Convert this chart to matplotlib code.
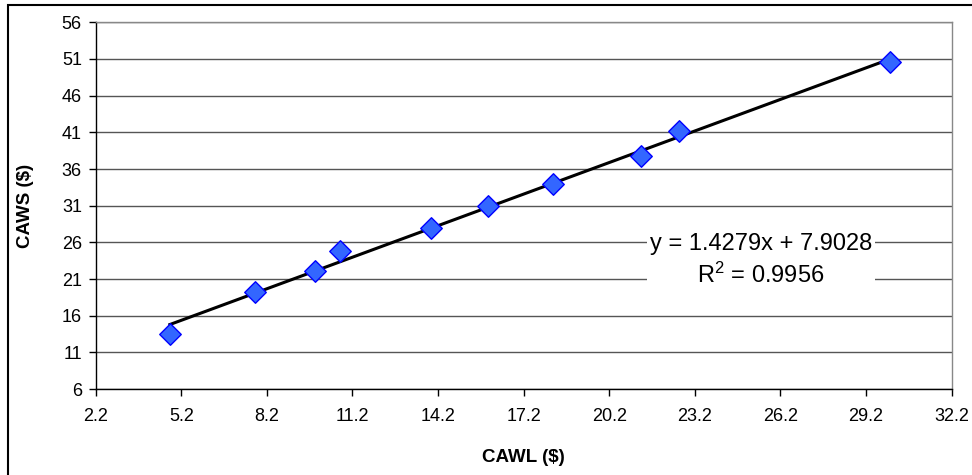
import numpy as np
import matplotlib
matplotlib.use('Agg')
import matplotlib.pyplot as plt
from matplotlib.patches import Rectangle

plt.rcParams['font.family'] = ['Liberation Sans', 'DejaVu Sans']
plt.rcParams['mathtext.fontset'] = 'custom'
plt.rcParams['mathtext.rm'] = 'Liberation Sans'
plt.rcParams['mathtext.default'] = 'regular'

# CAWL vs CAWS
cawl = [4.80, 7.78, 9.88, 10.77, 13.95, 15.95, 18.22, 21.33, 22.64, 30.05]
caws = [13.53, 19.22, 22.08, 24.77, 27.99, 30.91, 33.99, 37.77, 41.14, 50.55]
x_ticks = [2.2, 5.2, 8.2, 11.2, 14.2, 17.2, 20.2, 23.2, 26.2, 29.2, 32.2]
y_ticks = [6, 11, 16, 21, 26, 31, 36, 41, 46, 51, 56]
eq_text = 'y = 1.4279x + 7.9028\nR$^2$ = 0.9956'

fig = plt.figure(figsize=(9.72, 4.75), dpi=100)
ax = fig.add_axes([0.0985, 0.181, 0.8805, 0.772])

# outer chart border (runs off the right/bottom edge like the original)
fig.patches.append(Rectangle((0.0082, -0.05), 1.05, 1.039, transform=fig.transFigure,
                             fill=False, edgecolor='black', linewidth=1.5))

ax.set_xlim(2.2, 32.2)
ax.set_ylim(6, 56)
ax.set_xticks(x_ticks)
ax.set_yticks(y_ticks)
ax.set_xticklabels([f'{v:.1f}' for v in x_ticks])
ax.set_yticklabels([str(v) for v in y_ticks])
ax.tick_params(direction='out', length=5, width=1, labelsize=13)
ax.tick_params(axis='x', pad=9)
ax.tick_params(axis='y', pad=5)
ax.yaxis.grid(True, color='#555555', linewidth=1)
ax.set_axisbelow(True)

for s in ['top', 'right']:
    ax.spines[s].set_color('#888888')
    ax.spines[s].set_linewidth(1)
for s in ['left', 'bottom']:
    ax.spines[s].set_color('black')
    ax.spines[s].set_linewidth(1)

# linear trendline
k, b = np.polyfit(cawl, caws, 1)
xs = np.array([min(cawl), max(cawl)])
ax.plot(xs, k * xs + b, color='black', linewidth=2.2, zorder=3)

ax.scatter(cawl, caws, marker='D', s=120, facecolor='#3366FF', edgecolor='#0000FF',
           linewidth=1, zorder=4)

ax.text(25.52, 23.5, eq_text, ha='center', va='center', fontsize=17,
        linespacing=1.4, zorder=5,
        bbox=dict(facecolor='white', edgecolor='none', pad=2))

ax.set_xlabel('CAWL ($)', fontsize=13.5, fontweight='bold', labelpad=17)
ax.set_ylabel('CAWS ($)', fontsize=13.5, fontweight='bold', labelpad=20)

fig.savefig('out.png', dpi=100)
